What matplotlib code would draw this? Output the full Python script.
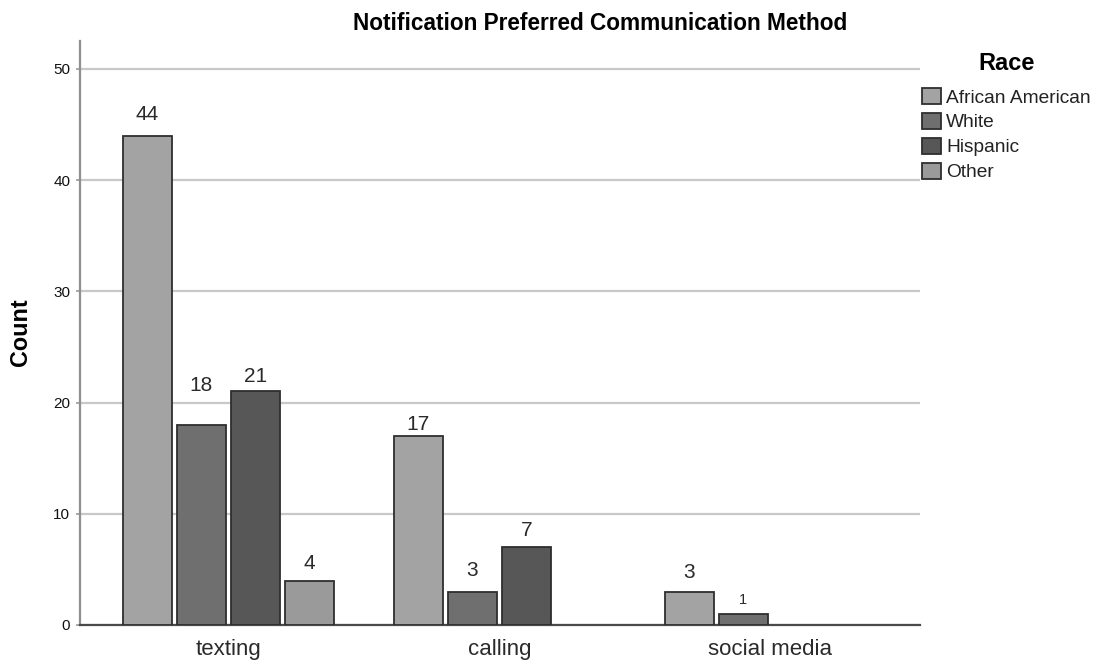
import matplotlib
matplotlib.use("Agg")
import matplotlib.pyplot as plt
from matplotlib.patches import Patch
import numpy as np

plt.rcParams['font.family'] = ['Liberation Sans', 'DejaVu Sans']

categories = ["texting", "calling", "social media"]
races = ["African American", "White", "Hispanic", "Other"]
counts = {
    "African American": [44, 17, 3],
    "White": [18, 3, 1],
    "Hispanic": [21, 7, 0],
    "Other": [4, 0, 0],
}
yticks = [0, 10, 20, 30, 40, 50]

# styling
colors = ["#a3a3a3", "#6f6f6f", "#575757", "#9a9a9a"]
# gap in pixels between bar top and label baseline, per race / category
label_gap_px = {
    "African American": [16, 6, 14],
    "White": [34, 16, 10],
    "Hispanic": [9, 11, 0],
    "Other": [12, 0, 0],
}

fig = plt.figure(figsize=(10.95, 6.62), dpi=100)
ax = fig.add_axes([80 / 1095, 37 / 662, 840 / 1095, 584 / 662])

x = np.arange(len(categories))
slot = 0.2
width = 0.18
for i, (race, col) in enumerate(zip(races, colors)):
    vals = counts[race]
    pos = x + (i - 1.5) * slot
    for j, (p, v) in enumerate(zip(pos, vals)):
        if v == 0:
            continue
        ax.bar(p, v, width=width, color=col, edgecolor="#2e2e2e", linewidth=1.3, zorder=3)
        fs = 10.5 if v == 1 else 15
        ax.annotate(str(v), xy=(p, v), xytext=(0, label_gap_px[race][j]),
                    textcoords="offset pixels", ha="center", va="baseline",
                    fontsize=fs, color="#2a2a2a", zorder=4)

ax.set_xlim(-0.548, 2.552)
ax.set_ylim(0, 52.5)
ax.set_yticks(yticks)
ax.set_yticklabels([str(t) for t in yticks], fontsize=11, color="#111111")
ax.set_xticks(x)
ax.set_xticklabels(categories, fontsize=16, color="#2a2a2a")
ax.tick_params(axis="x", length=0, pad=10)
ax.tick_params(axis="y", length=3, color="#999999", width=1.2, pad=4)
ax.yaxis.grid(True, color="#c8c8c8", linewidth=1.6, zorder=0)
ax.set_axisbelow(True)
for s in ["top", "right"]:
    ax.spines[s].set_visible(False)
ax.spines["left"].set_color("#8f8f8f")
ax.spines["left"].set_linewidth(1.6)
ax.spines["bottom"].set_color("#4a4a4a")
ax.spines["bottom"].set_linewidth(1.6)

fig.text(20 / 1095, 1 - 332 / 662, "Count", rotation=90, ha="center", va="center",
         fontsize=16.8, fontweight="bold")

fig.text(600 / 1095, 1 - 24 / 662, "Notification Preferred Communication Method",
         ha="center", va="center", fontsize=16.3, fontweight="bold")

# legend title and entries
fig.text(1007 / 1095, 1 - 63 / 662, "Race", ha="center", va="center",
         fontsize=17, fontweight="bold")
handles = [Patch(facecolor=c, edgecolor="#2e2e2e", linewidth=1.3, label=r) for r, c in zip(races, colors)]
leg = fig.legend(handles=handles, loc="upper left",
                 bbox_to_anchor=(922 / 1095, 1 - 88 / 662), frameon=False,
                 fontsize=13.8, handlelength=1.0, handleheight=0.9, handletextpad=0.25,
                 labelspacing=0.33, borderaxespad=0, borderpad=0)
for t in leg.get_texts():
    t.set_color("#222222")

fig.savefig("out.png", dpi=100)
